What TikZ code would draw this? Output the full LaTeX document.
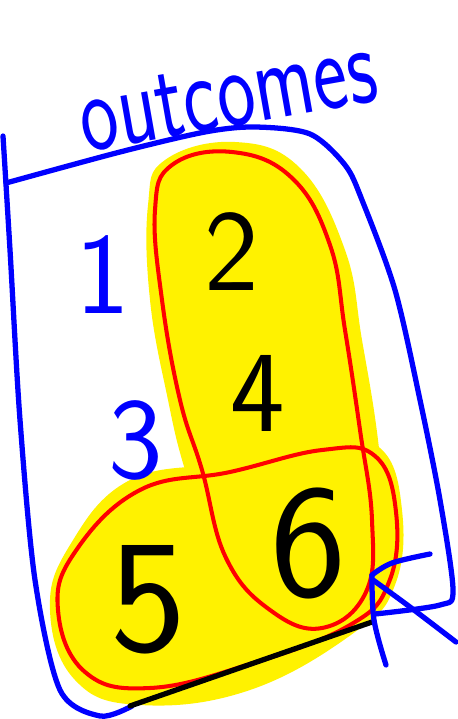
\documentclass[tikz,border=0pt]{standalone}
\usepackage{tikz}
\usetikzlibrary{calc}

\begin{document}
\begin{tikzpicture}[
x=0.02cm, y=-0.02cm,
pen/.style={line width=3pt, line cap=round, line join=round},
bluepen/.style={pen, draw=blue},
redpen/.style={line width=2.3pt, draw=red},
blob/.style={fill=yellow},
title/.style={font=\fontsize{46}{46}\selectfont\sffamily, text=blue, rotate=10, yscale=1.4, inner sep=0pt},
smallnum/.style={font=\fontsize{66}{66}\selectfont\sffamily, inner sep=0pt},
bignum/.style={font=\fontsize{92}{92}\selectfont\sffamily, inner sep=0pt}
]
\useasboundingbox (0,0) rectangle (457,719);

% yellow highlight
\fill[blob] plot[smooth cycle, tension=0.7] coordinates {(165,160) (235,142) (300,168) (345,250) (362,340) (378,440) (385,530) (375,600) (320,640) (265,618) (215,560) (185,470) (168,400) (150,300) (148,205)};
\fill[blob] plot[smooth cycle, tension=0.7] coordinates {(130,480) (230,462) (320,440) (380,448) (402,510) (395,585) (355,632) (250,690) (140,705) (75,680) (50,610) (70,545)};

% red circles
\draw[redpen] plot[smooth cycle, tension=0.7] coordinates {(172,165) (232,152) (292,178) (330,245) (345,330) (360,430) (372,520) (366,592) (322,628) (270,610) (226,558) (202,470) (180,400) (162,300) (155,210)};
\draw[redpen] plot[smooth cycle, tension=0.7] coordinates {(140,490) (230,472) (322,450) (375,456) (396,512) (389,582) (350,625) (250,664) (150,688) (85,672) (58,610) (75,552)};

% box
\draw[bluepen] plot[smooth, tension=0.5] coordinates {(3,136) (10,250) (20,420) (35,580) (60,690) (100,716) (132,706)};
\draw[bluepen] plot[smooth, tension=0.5] coordinates {(6,183) (120,152) (205,132) (255,127) (310,134) (345,165) (362,200) (395,290) (420,400) (440,500) (453,590) (440,605) (375,614)};
\draw[pen, draw=black] (130,706) -- (372,622);

% arrow
\draw[bluepen] plot[smooth, tension=0.6] coordinates {(430,554) (392,563) (372,575)};
\draw[bluepen] plot[smooth, tension=0.6] coordinates {(372,575) (374,620) (386,665)};
\draw[bluepen] plot[smooth, tension=0.6] coordinates {(373,580) (410,607) (456,642)};

% labels
\node[title] (head) at (228,96) {outcomes};
\node[smallnum, text=blue] (one) at (103,275) {1};
\node[smallnum] (two) at (232,252) {2};
\node[smallnum, text=blue] (three) at (136,440) {3};
\node[smallnum] (four) at (258,393) {4};
\node[bignum] (five) at (148,600) {5};
\node[bignum] (six) at (308,543) {6};
\end{tikzpicture}
\end{document}
